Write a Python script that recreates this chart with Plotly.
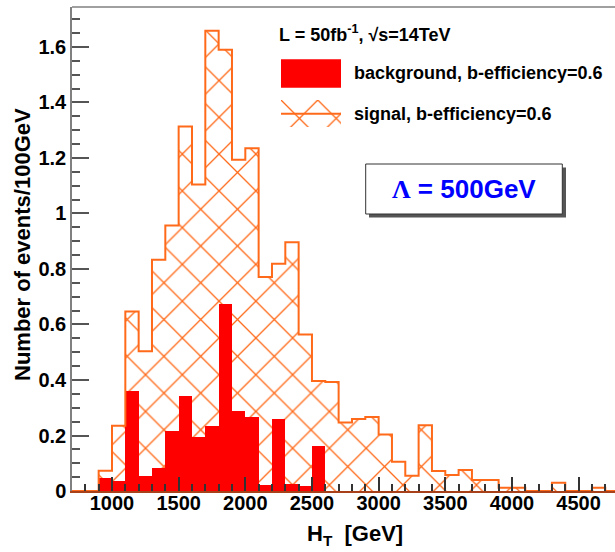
import plotly.graph_objects as go

# ---------------- data ----------------
ht_low = list(range(700, 4800, 100))  # lower bin edges, 100 GeV bins
signal = [0.0, 0.0,
          0.073, 0.235, 0.647, 0.504, 0.833, 0.957, 1.313, 1.104, 1.658, 1.590,
          1.194, 1.235, 0.771, 0.819, 0.896, 0.564, 0.396, 0.393, 0.247, 0.259,
          0.267, 0.204, 0.105, 0.055, 0.237, 0.072, 0.058, 0.076, 0.040, 0.040,
          0.012, 0.012, 0.0, 0.0, 0.030, 0.0, 0.0, 0.012, 0.0]
background = [0.0, 0.0,
              0.046, 0.037, 0.360, 0.055, 0.083, 0.216, 0.343, 0.195, 0.235, 0.675,
              0.289, 0.266, 0.020, 0.259, 0.026, 0.018, 0.163, 0.0, 0.0, 0.0,
              0.0, 0.0, 0.0, 0.0, 0.0, 0.0, 0.0, 0.0, 0.0, 0.0,
              0.0, 0.0, 0.0, 0.0, 0.0, 0.0, 0.0, 0.0, 0.0]
x_ticks = [1000, 1500, 2000, 2500, 3000, 3500, 4000, 4500]
x_labels = [str(v) for v in x_ticks]
y_ticks = [0, 0.2, 0.4, 0.6, 0.8, 1.0, 1.2, 1.4, 1.6]
y_labels = ["0", "0.2", "0.4", "0.6", "0.8", "1", "1.2", "1.4", "1.6"]

BIN = 100
centers = [v + BIN / 2 for v in ht_low]
edges = ht_low + [ht_low[-1] + BIN]
step_y = signal + [signal[-1]]

ORANGE = "#ff6a1a"
RED = "#ff0000"
FONT = "Liberation Sans"

W, H = 615, 552
L, R, T, B = 72, 615, 7, 491


def px(x):
    return (x - L) / (R - L)


def py(y):
    return (B - y) / (B - T)


hatch = dict(shape="x", fgcolor=ORANGE, fgopacity=1, size=26, solidity=0.1,
             fillmode="overlay")

fig = go.Figure()

# signal hatch
fig.add_trace(go.Bar(
    x=centers, y=signal, width=BIN,
    marker=dict(color="rgba(255,255,255,0)", line=dict(width=0), pattern=hatch),
    showlegend=False, hoverinfo="skip"))
# background filled
fig.add_trace(go.Bar(
    x=centers, y=background, width=BIN,
    marker=dict(color=RED, line=dict(width=0)),
    showlegend=False, hoverinfo="skip"))
# legend hatch symbol on its own small axes
fig.add_trace(go.Bar(
    x=[0.5], y=[1], width=1, xaxis="x2", yaxis="y2",
    marker=dict(color="rgba(255,255,255,0)", line=dict(width=0), pattern=hatch),
    showlegend=False, hoverinfo="skip"))
# signal outline
fig.add_trace(go.Scatter(
    x=edges, y=step_y, mode="lines",
    line=dict(color=ORANGE, width=2, shape="hv"),
    showlegend=False, hoverinfo="skip"))

tickfont = dict(family=FONT, size=20, color="black", weight="bold")

fig.update_layout(
    width=W, height=H,
    margin=dict(l=L, r=W - R, t=T, b=H - B),
    paper_bgcolor="white", plot_bgcolor="white",
    barmode="overlay", bargap=0,
    showlegend=False,
    xaxis=dict(range=[700, 4773], showgrid=False, zeroline=False,
               showline=True, linecolor="#a8401a", linewidth=2,
               ticks="inside", ticklen=14, tickwidth=1.5, tickcolor="#333",
               tickvals=x_ticks, ticktext=x_labels, tickfont=tickfont,
               ticklabelstandoff=-7,
               minor=dict(dtick=100, tick0=700, ticks="inside", ticklen=7,
                          tickwidth=1.5, tickcolor="#333", showgrid=False)),
    yaxis=dict(range=[0, 1.744], showgrid=False, zeroline=False,
               showline=True, linecolor="#808080", linewidth=1.5,
               ticks="inside", ticklen=17, tickwidth=1.5, tickcolor="#555",
               tickvals=y_ticks, ticktext=y_labels, tickfont=tickfont,
               minor=dict(dtick=0.05, tick0=0, ticks="inside", ticklen=8,
                          tickwidth=1.5, tickcolor="#555", showgrid=False)),
    xaxis2=dict(domain=[px(281), px(341)], range=[0, 1], visible=False,
                anchor="y2", fixedrange=True),
    yaxis2=dict(domain=[py(127), py(100)], range=[0, 1], visible=False,
                anchor="x2", fixedrange=True),
)

shapes = [
    # top frame line
    dict(type="line", xref="paper", yref="paper", x0=0, x1=1, y0=1, y1=1,
         line=dict(color="#808080", width=1.5)),
    # legend: background box
    dict(type="rect", xref="paper", yref="paper",
         x0=px(281), x1=px(341), y0=py(87.7), y1=py(59.3),
         fillcolor=RED, line=dict(width=0)),
    # legend: signal line
    dict(type="line", xref="paper", yref="paper",
         x0=px(281), x1=px(341), y0=py(113.7), y1=py(113.7),
         line=dict(color=ORANGE, width=2)),
    # Lambda box shadow
    dict(type="rect", xref="paper", yref="paper",
         x0=px(369), x1=px(566), y0=py(217.5), y1=py(167.5),
         fillcolor="#555555", line=dict(width=0)),
    # Lambda box
    dict(type="rect", xref="paper", yref="paper",
         x0=px(365.7), x1=px(562.3), y0=py(214), y1=py(164),
         fillcolor="white", line=dict(color="#333333", width=1)),
]

ann_font = dict(family=FONT, size=18, color="black", weight="bold")
annotations = [
    dict(text="L = 50fb<sup>-1</sup>, √s=14TeV", x=px(277), y=py(33),
         xref="paper", yref="paper", xanchor="left", yanchor="middle",
         showarrow=False, font=ann_font),
    dict(text="background, b-efficiency=0.6", x=px(352), y=py(73.5),
         xref="paper", yref="paper", xanchor="left", yanchor="middle",
         showarrow=False, font=ann_font),
    dict(text="signal, b-efficiency=0.6", x=px(352), y=py(113.5),
         xref="paper", yref="paper", xanchor="left", yanchor="middle",
         showarrow=False, font=ann_font),
    dict(text="<span style='font-family:Liberation Serif'>Λ</span> = 500GeV",
         x=px(464), y=py(189), xref="paper", yref="paper",
         xanchor="center", yanchor="middle", showarrow=False,
         font=dict(family=FONT, size=26, color="#0000ff", weight="bold")),
    dict(text="Number of events/100GeV", x=px(22), y=py(245),
         xref="paper", yref="paper", xanchor="center", yanchor="middle",
         textangle=-90, showarrow=False,
         font=dict(family=FONT, size=22, color="black", weight="bold")),
    dict(text="H<sub>T</sub>  [GeV]", x=px(355), y=py(535),
         xref="paper", yref="paper", xanchor="center", yanchor="middle",
         showarrow=False,
         font=dict(family=FONT, size=22, color="black", weight="bold")),
]

fig.update_layout(shapes=shapes, annotations=annotations)

fig.write_html("out.html")
